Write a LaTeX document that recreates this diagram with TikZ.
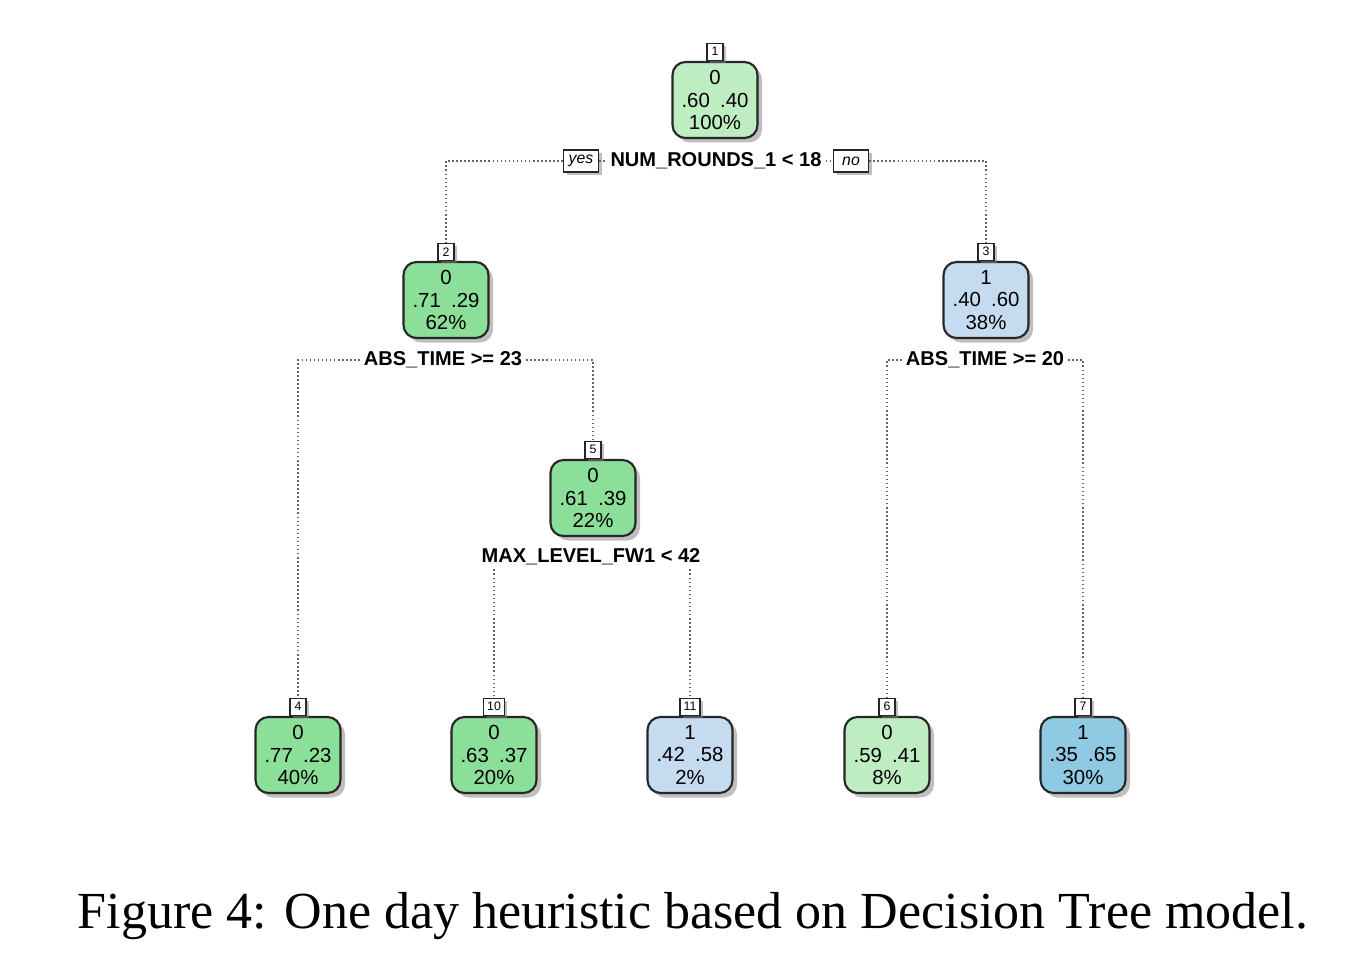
\documentclass[tikz,border=0pt]{standalone}
\usepackage{fontspec}
\setmainfont{Liberation Serif}
\newfontfamily\treefont{Liberation Sans}
\usetikzlibrary{positioning,shadows}

\definecolor{greenlight}{HTML}{BDEDC0}
\definecolor{greenmid}{HTML}{8CDF98}
\definecolor{bluelight}{HTML}{C5DCF0}
\definecolor{bluemid}{HTML}{8FC9E2}

\begin{document}
\begin{tikzpicture}[
    tnode/.style={draw=black!85, line width=0.6pt, rounded corners=1.3mm,
        minimum width=8.5mm, minimum height=7.6mm, inner sep=0pt, align=center,
        font=\treefont\fontsize{5.8}{6.3}\selectfont,
        drop shadow={shadow xshift=0.45mm, shadow yshift=-0.45mm, fill=black!50, opacity=0.5}},
    numbox/.style={draw=black!85, fill=white, line width=0.4pt, minimum width=1.6mm,
        minimum height=1.7mm, inner sep=0.35mm, font=\treefont\fontsize{3.5}{4}\selectfont,
        drop shadow={shadow xshift=0.3mm, shadow yshift=-0.3mm, fill=black!50, opacity=0.5}},
    yesno/.style={draw=black!85, fill=white, line width=0.4pt, minimum width=3.5mm,
        minimum height=2.2mm, inner sep=0.5mm, font=\treefont\itshape\fontsize{4.5}{5}\selectfont,
        drop shadow={shadow xshift=0.3mm, shadow yshift=-0.3mm, fill=black!50, opacity=0.5}},
    split/.style={inner sep=1pt, font=\treefont\bfseries\fontsize{5.7}{7}\selectfont},
    edge/.style={draw=black!60, line width=0.45pt, dash pattern=on 0.45pt off 0.7pt} ]
    % --- Root and first split ---
    \node[tnode, fill=greenlight] (n1) at (7.15, 8.78) {0\\.60\hspace{0.5em}.40\\100\%};
    \node[numbox, above=0pt of n1] (n1num) {1};
    \node[yesno] (yes) at (5.81, 8.17) {yes};
    \node[split] (s1) at (7.16, 8.17) {NUM\_ROUNDS\_1 < 18};
    \node[yesno] (no) at (8.51, 8.17) {no};

    % --- Second level ---
    \node[tnode, fill=greenmid] (n2) at (4.46, 6.78) {0\\.71\hspace{0.5em}.29\\62\%};
    \node[numbox, above=0pt of n2] (n2num) {2};
    \node[tnode, fill=bluelight] (n3) at (9.86, 6.78) {1\\.40\hspace{0.5em}.60\\38\%};
    \node[numbox, above=0pt of n3] (n3num) {3};
    \node[split] (s2) at (4.43, 6.18) {ABS\_TIME >= 23};
    \node[split] (s3) at (9.85, 6.18) {ABS\_TIME >= 20};

    % --- Third level ---
    \node[tnode, fill=greenmid] (n5) at (5.93, 4.80) {0\\.61\hspace{0.5em}.39\\22\%};
    \node[numbox, above=0pt of n5] (n5num) {5};
    \node[split] (s5) at (5.91, 4.21) {MAX\_LEVEL\_FW1 < 42};

    % --- Leaves ---
    \node[tnode, fill=greenmid] (n4) at (2.98, 2.23) {0\\.77\hspace{0.5em}.23\\40\%};
    \node[numbox, above=0pt of n4] (n4num) {4};
    \node[tnode, fill=greenmid] (n10) at (4.94, 2.23) {0\\.63\hspace{0.5em}.37\\20\%};
    \node[numbox, above=0pt of n10] (n10num) {10};
    \node[tnode, fill=bluelight] (n11) at (6.90, 2.23) {1\\.42\hspace{0.5em}.58\\2\%};
    \node[numbox, above=0pt of n11] (n11num) {11};
    \node[tnode, fill=greenlight] (n6) at (8.87, 2.23) {0\\.59\hspace{0.5em}.41\\8\%};
    \node[numbox, above=0pt of n6] (n6num) {6};
    \node[tnode, fill=bluemid] (n7) at (10.83, 2.23) {1\\.35\hspace{0.5em}.65\\30\%};
    \node[numbox, above=0pt of n7] (n7num) {7};

    % --- Dotted connectors ---
    \draw[edge] (yes.west) -| (n2num.north);
    \draw[edge] (yes.east) -- (s1.west);
    \draw[edge] (s1.east) -- (no.west);
    \draw[edge] (no.east) -| (n3num.north);
    \draw[edge] (s2.west) -| (n4num.north);
    \draw[edge] (s2.east) -| (n5num.north);
    \draw[edge] (s3.west) -| (n6num.north);
    \draw[edge] (s3.east) -| (n7num.north);
    \draw[edge] (s5.south -| n10num.north) -- (n10num.north);
    \draw[edge] (s5.south -| n11num.north) -- (n11num.north);

    \node[font=\fontsize{14.8}{17}\selectfont] (caption) at (6.93, 0.62)
        {Figure 4: One day heuristic based on Decision Tree model.};

    % Bounding box for padding
    \useasboundingbox (0, 0) rectangle (13.72, 9.78);
\end{tikzpicture}
\end{document}
